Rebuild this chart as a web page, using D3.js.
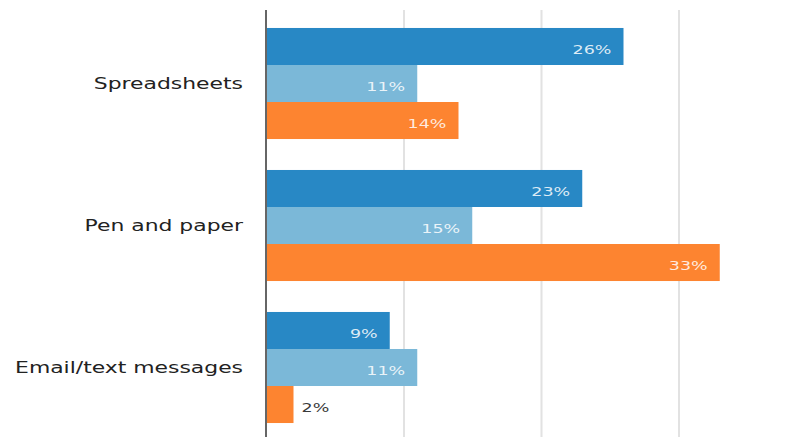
<!DOCTYPE html>
<html>
<head>
<meta charset="utf-8">
<script src="https://cdn.jsdelivr.net/npm/d3@7/dist/d3.min.js"></script>
<style>
  html, body { margin: 0; padding: 0; background: #fff; }
  svg { display: block; }
</style>
</head>
<body>
<svg id="chart" width="804" height="437"></svg>
<script>
// Categories and the three series (percent of respondents)
const categories = ["Spreadsheets", "Pen and paper", "Email/text messages"];
const seriesNames = ["seriesA", "seriesB", "seriesC"];
const seriesAValues = [26, 23, 9];
const seriesBValues = [11, 15, 11];
const seriesCValues = [14, 33, 2];
const gridTicks = [10, 20, 30];

const seriesColors = ["#2888c5", "#7bb8d8", "#fd8430"];

const W = 804, H = 437;
const svg = d3.select("#chart");

const x = d3.scaleLinear().domain([0, 40]).range([266, 816]);
const y = d3.scaleBand().domain(categories).range([12.5, 438.5])
  .paddingInner(0.218).paddingOuter(0.109);
const ySub = d3.scaleBand().domain(seriesNames).range([0, y.bandwidth()]);
const color = d3.scaleOrdinal().domain(seriesNames).range(seriesColors);

const valuesBySeries = { seriesA: seriesAValues, seriesB: seriesBValues, seriesC: seriesCValues };
const rows = categories.map((c, i) => ({
  category: c,
  items: seriesNames.map(s => ({ series: s, value: valuesBySeries[s][i] }))
}));

// vertical gridlines
const grid = svg.append("g")
  .attr("transform", `translate(0,${H})`)
  .call(d3.axisTop(x).tickValues(gridTicks).tickSize(H - 10).tickFormat(""));
grid.select(".domain").remove();
grid.selectAll(".tick line").attr("stroke", "#e2e2e2").attr("stroke-width", 2);

// bars
const groups = svg.append("g").selectAll("g")
  .data(rows).join("g")
  .attr("transform", d => `translate(0,${y(d.category)})`);

groups.selectAll("rect")
  .data(d => d.items).join("rect")
  .attr("x", x(0))
  .attr("y", d => ySub(d.series))
  .attr("width", d => x(d.value) - x(0))
  .attr("height", ySub.bandwidth())
  .attr("fill", d => color(d.series));

// value labels (stretched horizontally like the rest of the text)
const stretch = 1.46;
groups.selectAll("g.val")
  .data(d => d.items).join("g")
  .attr("class", "val")
  .attr("transform", d => {
    const inside = d.value >= 5;
    const tx = inside ? x(d.value) - 12 : x(d.value) + 8;
    return `translate(${tx},${ySub(d.series) + ySub.bandwidth() / 2}) scale(${stretch},1)`;
  })
  .append("text")
  .attr("text-anchor", d => d.value >= 5 ? "end" : "start")
  .attr("dy", "0.62em")
  .attr("font-family", "DejaVu Sans, Verdana, sans-serif")
  .attr("font-size", 12)
  .attr("fill", d => d.value >= 5 ? "rgba(255,255,255,0.85)" : "#3a3a3a")
  .text(d => d.value + "%");

// category axis
const yAxis = svg.append("g")
  .attr("transform", `translate(${x(0)},0)`)
  .call(d3.axisLeft(y).tickSize(0).tickPadding(0));
yAxis.select(".domain").remove();
yAxis.selectAll(".tick text").remove();
yAxis.selectAll(".tick").append("g")
  .attr("transform", `translate(-23,0) scale(${stretch},1)`)
  .append("text")
  .attr("text-anchor", "end")
  .attr("dy", "0.35em")
  .attr("font-family", "DejaVu Sans, Verdana, sans-serif")
  .attr("font-size", 15)
  .attr("fill", "#222")
  .text(d => d);

// baseline
svg.append("line")
  .attr("x1", x(0)).attr("x2", x(0))
  .attr("y1", 10).attr("y2", H)
  .attr("stroke", "#666").attr("stroke-width", 2);
</script>
</body>
</html>
